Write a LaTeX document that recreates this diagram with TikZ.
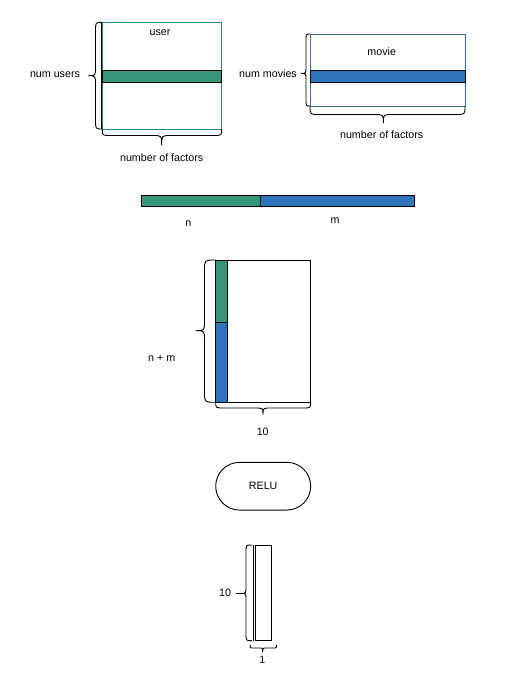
\documentclass[tikz,border=0pt]{standalone}
\usepackage{fontspec}
\setmainfont{Liberation Sans}
\definecolor{stripegreen}{RGB}{54,150,122}
\definecolor{stripeblue}{RGB}{46,117,190}
\definecolor{edgegreen}{RGB}{40,135,112}
\definecolor{edgeblue}{RGB}{45,115,175}
\newcommand{\mybraceL}[7]{% open x, back x, tip x, top y, bottom y, mid y, radius
  \draw[bracestyle] (#1,#4) .. controls (#2,#4) .. (#2,{#4+#7}) -- (#2,{#6-#7})
    .. controls (#2,#6) .. (#3,#6) .. controls (#2,#6) .. (#2,{#6+#7})
    -- (#2,{#5-#7}) .. controls (#2,#5) .. (#1,#5);}
\newcommand{\mybraceB}[7]{% left x, right x, mid x, open y, back y, tip y, radius
  \draw[bracestyle] (#1,#4) .. controls (#1,#5) .. ({#1+#7},#5) -- ({#3-#7},#5)
    .. controls (#3,#5) .. (#3,#6) .. controls (#3,#5) .. ({#3+#7},#5)
    -- ({#2-#7},#5) .. controls (#2,#5) .. (#2,#4);}
\tikzset{
  bracestyle/.style={draw=black, line width=0.9pt},
  lbl/.style={font=\fontsize{10.7}{12}\selectfont, inner sep=0pt, anchor=center},
  boxline/.style={draw=black, line width=0.9pt},
}
\begin{document}
\begin{tikzpicture}[x=1pt,y=-1pt]
\useasboundingbox (0,0) rectangle (520,677);
% ---------- user matrix
\draw[draw=edgegreen, line width=0.8pt] (102.3,22.3) rectangle (221.7,129);
\draw[boxline, fill=stripegreen] (102.3,70) rectangle (221.7,82.3);
\draw[black, line width=0.5pt] (101.3,22.3) -- (101.3,129);
\mybraceL{102.3}{95.5}{88.5}{22.3}{129}{75.7}{9}
\mybraceB{102.3}{221.7}{161.7}{129}{135.5}{145}{9}
\node[lbl] (user) at (160,33) {user};
\node[lbl] (numusers) at (55,75) {num users};
\node[lbl] (nfu) at (161.7,157.7) {number of factors};
% ---------- movie matrix
\draw[draw=edgeblue, line width=0.8pt] (310,34) rectangle (465,106);
\draw[boxline, fill=stripeblue] (310,70) rectangle (465,82.3);
\mybraceL{310}{306}{301}{34}{106}{73.5}{7}
\mybraceB{310}{465}{383.3}{106}{114.5}{123}{9}
\node[lbl] (movie) at (381.7,52) {movie};
\node[lbl] (nummovies) at (268,74) {num movies};
\node[lbl] (nfm) at (381.7,134.5) {number of factors};
% ---------- concatenated bar
\draw[boxline, fill=stripegreen] (141,195) rectangle (260,206.7);
\draw[boxline, fill=stripeblue] (260,195) rectangle (414.3,206.7);
\node[lbl] (n) at (188.3,223.3) {n};
\node[lbl] (m) at (335,220.7) {m};
% ---------- (n+m) x 10 matrix
\draw[boxline, fill=white] (215.7,260) rectangle (310.7,402.3);
\draw[boxline, fill=stripegreen] (215.7,260) rectangle (227.3,322.3);
\draw[boxline, fill=stripeblue] (215.7,322.3) rectangle (227.3,402.3);
\mybraceL{215.7}{204.5}{196}{260}{402.3}{330.7}{10}
\mybraceB{215.7}{310.7}{263}{402.3}{408}{414.5}{8}
\node[lbl] (nm) at (161.7,358.3) {n + m};
\node[lbl] (ten) at (262.7,431.7) {10};
% ---------- RELU
\node[draw=black, line width=0.9pt, rounded corners=23.8pt, minimum width=95pt,
      minimum height=47.7pt, inner sep=0pt, font=\fontsize{10.7}{12}\selectfont]
      (relu) at (263.2,486.2) {RELU};
% ---------- 10 x 1 vector
\draw[boxline] (255.8,545) rectangle (271.7,640.7);
\draw[black, line width=0.8pt] (253.6,545) -- (253.6,640.7);
\mybraceL{252}{246}{241}{545}{640.7}{593.3}{7}
\coordinate (tipend) at (236,593.3);
\coordinate (tipstart) at (241,593.3);
\draw[bracestyle] (tipstart) -- (tipend);
\mybraceB{250}{276.7}{262.7}{645}{648}{651}{4}
\node[lbl] (tenb) at (225,593) {10};
\node[lbl] (one) at (262.3,660) {1};
\end{tikzpicture}
\end{document}
